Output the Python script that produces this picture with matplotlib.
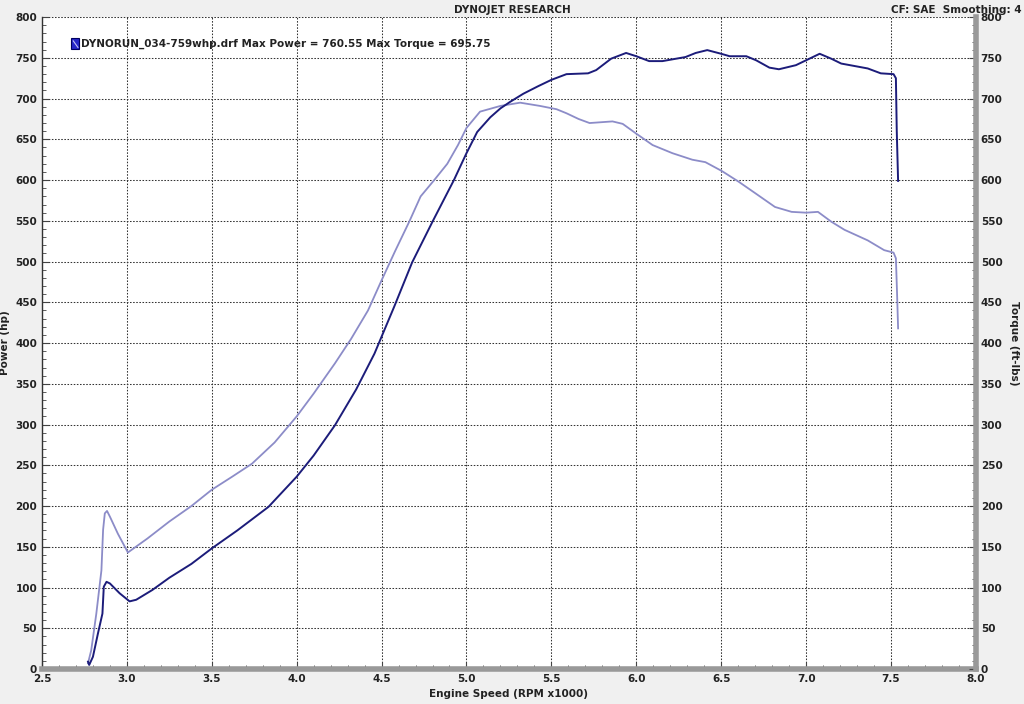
import matplotlib
matplotlib.use("Agg")
import matplotlib.pyplot as plt
from matplotlib.ticker import MultipleLocator
import numpy as np

# engine speed (RPM x1000) and power (hp)
rpm_hp = [2.771, 2.778, 2.80, 2.83, 2.856, 2.864, 2.88, 2.90, 2.957, 3.016, 3.055,
          3.15, 3.25, 3.38, 3.5, 3.65, 3.834, 4.0, 4.1, 4.225, 4.35, 4.458, 4.575,
          4.68, 4.80, 4.926, 5.0, 5.063, 5.14, 5.20, 5.257, 5.335, 5.42, 5.5, 5.589,
          5.716, 5.764, 5.852, 5.94, 6.0, 6.076, 6.154, 6.29, 6.35, 6.418, 6.5,
          6.55, 6.648, 6.706, 6.784, 6.84, 6.94, 7.0, 7.08, 7.148, 7.207, 7.285,
          7.363, 7.44, 7.515, 7.529, 7.534, 7.542]
power = [9, 5, 15, 44, 68, 101, 107, 105, 93, 83, 85,
         97, 112, 129, 148, 170, 199, 236, 262, 299, 343, 387, 445,
         499, 549, 600, 633, 659, 677, 688, 696, 706, 715, 723, 730,
         731, 735, 749, 756, 752, 746, 746, 751, 756, 759.5, 755,
         752, 752, 747, 738, 736, 741, 747, 755, 749, 743, 740,
         737, 731, 730, 725, 661, 599]

# engine speed (RPM x1000) and torque (ft-lbs)
rpm_tq = [2.771, 2.79, 2.82, 2.85, 2.86, 2.87, 2.883, 2.90, 2.947, 3.006,
          3.12, 3.25, 3.38, 3.5, 3.62, 3.737, 3.87, 4.0, 4.1, 4.225, 4.32, 4.42,
          4.5, 4.58, 4.663, 4.73, 4.81, 4.887, 4.95, 5.0, 5.08, 5.2, 5.316, 5.433,
          5.53, 5.589, 5.66, 5.725, 5.86, 5.92, 6.0, 6.096, 6.213, 6.33, 6.407,
          6.505, 6.603, 6.7, 6.817, 6.915, 7.0, 7.07, 7.148, 7.226, 7.363, 7.46,
          7.515, 7.529, 7.536, 7.542]
torque = [7, 23, 68, 121, 171, 191, 194, 187, 166, 143,
          160, 181, 200, 220, 236, 252, 278, 310, 338, 375, 405, 440,
          477, 513, 549, 580, 600, 620, 643, 664, 684, 691, 695, 691,
          687, 682, 675, 670, 672, 669, 657, 643, 633, 625, 622,
          611, 598, 584, 567, 561, 560, 561, 549, 539, 526, 514,
          511, 504, 460, 418]

x_ticks = [2.5, 3.0, 3.5, 4.0, 4.5, 5.0, 5.5, 6.0, 6.5, 7.0, 7.5, 8.0]

power_color = "#1c1c7a"
torque_color = "#8c8cc8"
bold = dict(fontsize=7.5, fontweight="bold", color="#222222")

fig = plt.figure(figsize=(10.24, 7.04), dpi=100)
fig.patch.set_facecolor("#f0f0f0")
ax = fig.add_axes([0.041, 0.0497, 0.912, 0.926])
ax.set_facecolor("white")

ax.plot(rpm_tq, torque, color=torque_color, lw=1.3, zorder=3)
ax.plot(rpm_hp, power, color=power_color, lw=1.4, zorder=4)

ax.set_xlim(2.5, 8.0)
ax.set_ylim(0, 800)
ax.set_xticks(x_ticks)
ax.set_xticklabels(["%.1f" % v for v in x_ticks])
ax.xaxis.set_minor_locator(MultipleLocator(0.1))
ax.yaxis.set_major_locator(MultipleLocator(50))
ax.yaxis.set_minor_locator(MultipleLocator(10))
ax.grid(True, which="major", color="#333333", linestyle=(0, (1.5, 1.5)), lw=0.75)
ax.tick_params(which="both", direction="in", labelsize=7.5, colors="#444444",
               labelcolor="#222222")
ax.tick_params(which="major", length=5)
ax.tick_params(which="minor", length=3)
for lab in ax.get_xticklabels() + ax.get_yticklabels():
    lab.set_fontweight("bold")

ax.spines["top"].set_visible(False)
ax.spines["right"].set_visible(False)
ax.spines["left"].set_color("#333333")
ax.spines["left"].set_linewidth(1.0)
ax.spines["bottom"].set_color("#999999")
ax.spines["bottom"].set_linewidth(4)

ax2 = ax.twinx()
ax2.set_ylim(0, 800)
ax2.yaxis.set_major_locator(MultipleLocator(50))
ax2.yaxis.set_minor_locator(MultipleLocator(10))
ax2.tick_params(which="both", direction="in", labelsize=7.5, colors="#444444",
                labelcolor="#222222")
ax2.tick_params(which="major", length=5)
ax2.tick_params(which="minor", length=3)
for lab in ax2.get_yticklabels():
    lab.set_fontweight("bold")
for s in ["top", "left", "bottom"]:
    ax2.spines[s].set_visible(False)
ax2.spines["right"].set_color("#999999")
ax2.spines["right"].set_linewidth(4)

ax.set_xlabel("Engine Speed (RPM x1000)", labelpad=4, **bold)
ax.set_ylabel("Power (hp)", labelpad=4, **bold)
ax2.set_ylabel("Torque (ft-lbs)", rotation=270, labelpad=12, **bold)

fig.text(0.5, 0.993, "DYNOJET RESEARCH", ha="center", va="top", **bold)
fig.text(0.998, 0.993, "CF: SAE  Smoothing: 4", ha="right", va="top", **bold)

# legend entry
ax.add_patch(plt.Rectangle((0.0315, 0.9515), 0.008, 0.016, transform=ax.transAxes,
                           facecolor="#2626c8", edgecolor="#000060", lw=0.8,
                           zorder=5, clip_on=False))
ax.plot([0.0335, 0.0385], [0.9635, 0.9535], transform=ax.transAxes,
        color="#c0c0f0", lw=0.8, zorder=6)
ax.text(0.0415, 0.959, "DYNORUN_034-759whp.drf Max Power = 760.55 Max Torque = 695.75",
        transform=ax.transAxes, ha="left", va="center", zorder=5, **bold)

fig.savefig("out.png", dpi=100, facecolor=fig.get_facecolor())
